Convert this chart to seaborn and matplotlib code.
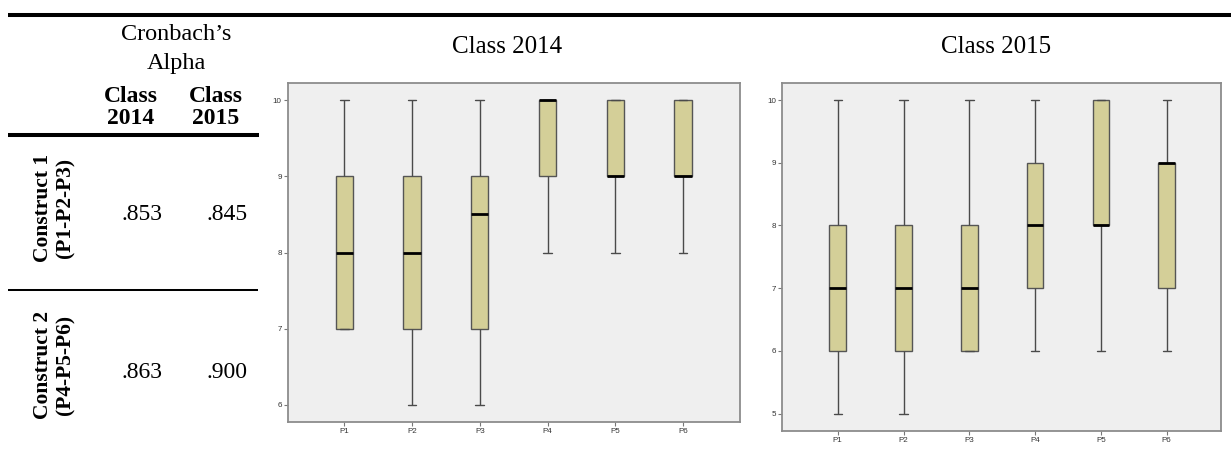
import matplotlib
matplotlib.use("Agg")
import matplotlib.pyplot as plt
from matplotlib.lines import Line2D
import seaborn as sns
import pandas as pd

sns.set_theme(style="white")
plt.rcParams["font.family"] = ["Liberation Serif", "DejaVu Serif"]
plt.rcParams["text.color"] = "black"

# Items and five-number summaries (min, Q1, median, Q3, max) per class
items = ["P1", "P2", "P3", "P4", "P5", "P6"]

min_2014 = [7, 6, 6, 8, 8, 8]
q1_2014 = [7, 7, 7, 9, 9, 9]
med_2014 = [8, 8, 8.5, 10, 9, 9]
q3_2014 = [9, 9, 9, 10, 10, 10]
max_2014 = [10, 10, 10, 10, 10, 10]

min_2015 = [5, 5, 6, 6, 6, 6]
q1_2015 = [6, 6, 6, 7, 8, 7]
med_2015 = [7, 7, 7, 8, 8, 9]
q3_2015 = [8, 8, 8, 9, 10, 9]
max_2015 = [10, 10, 10, 10, 10, 10]

# Reliability table
constructs = ["Construct 1\n(P1-P2-P3)", "Construct 2\n(P4-P5-P6)"]
alpha_2014 = [".853", ".863"]
alpha_2015 = [".845", ".900"]


def long_frame(mins, q1s, meds, q3s, maxs):
    rows = []
    for item, vals in zip(items, zip(mins, q1s, meds, q3s, maxs)):
        for v in vals:
            rows.append({"item": item, "score": v})
    return pd.DataFrame(rows)


df14 = long_frame(min_2014, q1_2014, med_2014, q3_2014, max_2014)
df15 = long_frame(min_2015, q1_2015, med_2015, q3_2015, max_2015)

W, H = 1231, 449
fig = plt.figure(figsize=(W / 100, H / 100), dpi=100)

BOX = "#D4CF98"
FACE = "#EFEFEF"
SPINE = "#8C8C8C"


def px(x, y):
    return x / W, 1 - y / H


def box_panel(rect, df, ylim, xlim, yticks, title, title_xy):
    ax = fig.add_axes(rect)
    sns.boxplot(
        data=df, x="item", y="score", order=items, ax=ax,
        color=BOX, saturation=1, width=0.255, whis=(0, 100),
        linecolor="#555555", linewidth=1.0, fliersize=0,
        medianprops=dict(color="black", linewidth=2.0),
        whiskerprops=dict(color="#4A4A4A", linewidth=1.0),
        capprops=dict(color="#4A4A4A", linewidth=1.0),
    )
    ax.set_facecolor(FACE)
    ax.set_xlim(*xlim)
    ax.set_ylim(*ylim)
    ax.set_yticks(yticks)
    ax.set_yticklabels([str(t) for t in yticks])
    ax.set_xlabel("")
    ax.set_ylabel("")
    for s in ax.spines.values():
        s.set_visible(True)
        s.set_color(SPINE)
        s.set_linewidth(1.3)
    ax.tick_params(axis="both", which="both", direction="out", length=3,
                   width=0.8, color="#777777", labelsize=5.8,
                   labelcolor="#333333", pad=1.5, left=True, bottom=True)
    for lab in ax.get_xticklabels() + ax.get_yticklabels():
        lab.set_family(["Liberation Sans", "DejaVu Sans"])
    tx, ty = px(*title_xy)
    fig.text(tx, ty, title, ha="center", va="center", fontsize=18,
             color="black")
    return ax


box_panel([288 / W, 1 - 422 / H, 452 / W, 339 / H], df14,
          (5.777, 10.223), (-0.831, 5.841), [6, 7, 8, 9, 10],
          "Class 2014", (507, 47))
box_panel([782.3 / W, 1 - 431 / H, 438.7 / W, 348.3 / H], df15,
          (4.724, 10.276), (-0.842, 5.825), [5, 6, 7, 8, 9, 10],
          "Class 2015", (996, 47))

# Table rules
def hline(y, x0, x1, lw):
    a, b = px(x0, y)
    c, _ = px(x1, y)
    fig.add_artist(Line2D([a, c], [b, b], color="black", linewidth=lw,
                          transform=fig.transFigure, solid_capstyle="butt"))


hline(15, 8, 1231, 2.9)
hline(135, 8, 259, 2.9)
hline(290, 8, 258, 1.45)

# Table header
fig.text(*px(176, 34), "Cronbach\u2019s", ha="center", va="center", fontsize=17.5)
fig.text(*px(176, 63), "Alpha", ha="center", va="center", fontsize=17.5)
for x, yr in [(131, "2014"), (216, "2015")]:
    fig.text(*px(x, 96), "Class", ha="center", va="center", fontsize=17,
             fontweight="bold")
    fig.text(*px(x, 119), yr, ha="center", va="center", fontsize=17,
             fontweight="bold")

# Table body
for yc, name, a14, a15 in zip([208, 365], constructs, alpha_2014, alpha_2015):
    fig.text(*px(54, yc), name, ha="center", va="center", rotation=90,
             fontsize=15.5, fontweight="bold", linespacing=1.15,
             multialignment="center")
    fig.text(*px(142, yc + 7), a14, ha="center", va="center", fontsize=17)
    fig.text(*px(227, yc + 7), a15, ha="center", va="center", fontsize=17)

fig.savefig("out.png", dpi=100)
